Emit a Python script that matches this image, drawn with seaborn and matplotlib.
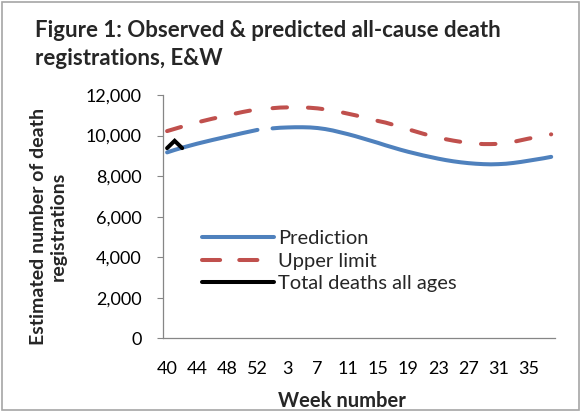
import matplotlib
matplotlib.use("Agg")
import numpy as np
import pandas as pd
import matplotlib.pyplot as plt
import seaborn as sns
from matplotlib.lines import Line2D
from matplotlib.patches import Rectangle
from matplotlib.ticker import FuncFormatter

# week categories: 40..53 of year one (53 has no data), then 1..38
weeks = list(range(40, 54)) + list(range(1, 39))

prediction = [9170, 9290, 9400, 9500, 9600, 9690, 9780, 9865, 9950, 10035,
              10120, 10200, 10280, None,
              10355, 10385, 10400, 10410, 10410, 10400, 10370, 10320, 10250, 10160,
              10070, 9970, 9860, 9750, 9640, 9520, 9410, 9300, 9200, 9110,
              9020, 8940, 8860, 8790, 8730, 8680, 8640, 8610, 8590, 8580,
              8590, 8610, 8650, 8700, 8760, 8820, 8880, 8950]

upper_limit = [10220, 10330, 10440, 10550, 10650, 10740, 10830, 10910, 10990, 11080,
               11160, 11230, 11280, None,
               11350, 11380, 11390, 11400, 11390, 11370, 11340, 11290, 11230, 11160,
               11080, 11000, 10910, 10820, 10720, 10640, 10535, 10420, 10310, 10200,
               10090, 9990, 9900, 9820, 9750, 9690, 9640, 9600, 9580, 9580,
               9590, 9630, 9690, 9770, 9850, 9920, 9990, 10060]

total_deaths = [9380, 9740, 9380]

series_names = ["Prediction", "Upper limit", "Total deaths all ages"]
colors = {"Prediction": "#4F81BD", "Upper limit": "#C0504D", "Total deaths all ages": "#000000"}

# long table, with a new segment after each missing week so the line breaks there
rows = []
for name, vals in zip(series_names, [prediction, upper_limit, total_deaths]):
    seg = 0
    for i, v in enumerate(vals):
        if v is None:
            seg += 1
            continue
        rows.append({"pos": i, "week": weeks[i], "deaths": v, "series": name, "seg": seg})
df = pd.DataFrame(rows)

sns.set_style("white")
plt.rcParams["font.family"] = ["Lato", "DejaVu Sans"]

fig = plt.figure(figsize=(5.81, 4.12), dpi=100)
ax = fig.add_axes([0.2811, 0.1789, 0.6741, 0.5905])

lw = 2.9
dash = (0, (3.6, 5.2))
sns.lineplot(data=df[df.series == "Prediction"], x="pos", y="deaths", units="seg",
             estimator=None, color=colors["Prediction"], lw=lw, ax=ax,
             solid_capstyle="round")
sns.lineplot(data=df[df.series == "Upper limit"], x="pos", y="deaths", units="seg",
             estimator=None, color=colors["Upper limit"], lw=lw, ax=ax,
             dashes=False, linestyle=dash, dash_capstyle="round")
sns.lineplot(data=df[df.series == "Total deaths all ages"], x="pos", y="deaths", units="seg",
             estimator=None, color=colors["Total deaths all ages"], lw=lw, ax=ax,
             solid_joinstyle="miter")

ax.set_xlim(-0.5, 51.5)
ax.set_ylim(0, 12000)
ax.set_yticks(np.arange(0, 12001, 2000))
ax.yaxis.set_major_formatter(FuncFormatter(lambda v, p: f"{int(v):,}"))
ax.set_xticks(range(0, 52, 4))
ax.set_xticklabels([str(weeks[i]) for i in range(0, 52, 4)])
ax.set_xticks(np.arange(-0.5, 52, 2), minor=True)

spine_col = "#868686"
for s in ["top", "right"]:
    ax.spines[s].set_visible(False)
for s in ["left", "bottom"]:
    ax.spines[s].set_color(spine_col)
    ax.spines[s].set_linewidth(0.9)

ax.tick_params(axis="x", which="major", length=0, pad=16.5, labelsize=13, labelcolor="black")
ax.tick_params(axis="x", which="minor", length=4.5, width=0.8, color=spine_col, direction="out")
ax.tick_params(axis="y", which="major", length=4.5, width=0.8, color=spine_col,
               direction="out", pad=11, labelsize=13, labelcolor="black", left=True)

ax.set_xlabel("Week number", fontsize=14.5, fontweight="bold")
ax.xaxis.set_label_coords(0.455, -0.215)
ax.set_ylabel("Estimated number of death\nregistrations", fontsize=14, fontweight="bold",
              linespacing=1.2)
ax.yaxis.set_label_coords(-0.247, 0.46)

handles = [
    Line2D([], [], color=colors["Prediction"], lw=lw),
    Line2D([], [], color=colors["Upper limit"], lw=lw, linestyle=(0, (4.5, 4.75)),
           dash_capstyle="round"),
    Line2D([], [], color=colors["Total deaths all ages"], lw=lw),
]
ax.legend(handles, series_names, loc="upper left", bbox_to_anchor=(0.052, 0.52),
          frameon=False, fontsize=14.5, handlelength=3.6, handletextpad=0.2,
          labelspacing=0.28)

fig.text(35 / 581, 1 - 20 / 412, "Figure 1: Observed & predicted all-cause death\nregistrations, E&W",
         ha="left", va="top", fontsize=16, fontweight="bold", linespacing=1.4)

fig.patches.append(Rectangle((0.004, 0.004), 0.992, 0.992, transform=fig.transFigure,
                             fill=False, edgecolor="#a6a6a6", lw=1.2))

fig.savefig("out.png", dpi=100)
